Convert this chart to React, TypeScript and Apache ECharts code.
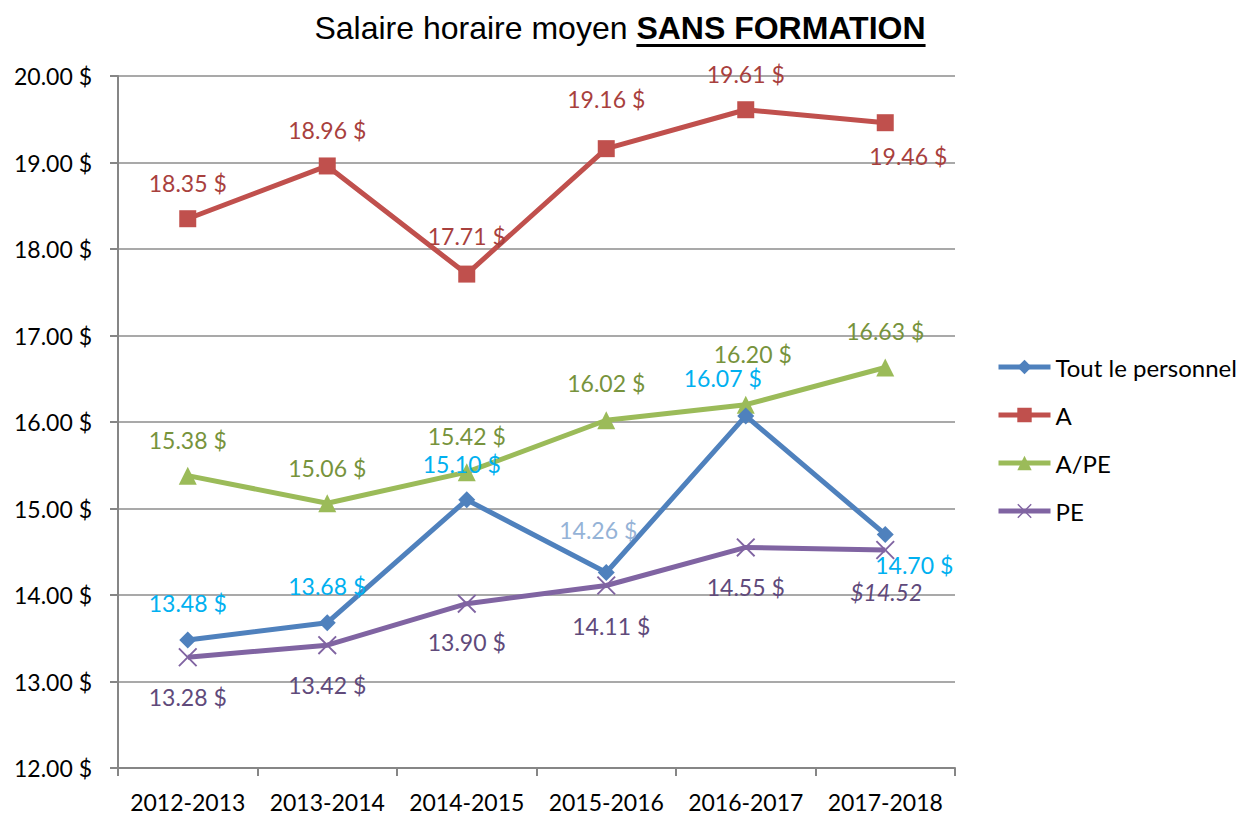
import React, { useEffect, useRef } from "react";
import * as echarts from "echarts";

const categories = ["2012-2013", "2013-2014", "2014-2015", "2015-2016", "2016-2017", "2017-2018"];
const seriesNames = ["Tout le personnel", "A", "A/PE", "PE"];
const toutValues = [13.48, 13.68, 15.1, 14.26, 16.07, 14.7];
const aValues = [18.35, 18.96, 17.71, 19.16, 19.61, 19.46];
const apeValues = [15.38, 15.06, 15.42, 16.02, 16.2, 16.63];
const peValues = [13.28, 13.42, 13.9, 14.11, 14.55, 14.52];
const yMin = 12;
const yMax = 20;
const yStep = 1;

const titlePlain = "Salaire horaire moyen ";
const titleBold = "SANS FORMATION";

// label styling (offsets relative to point centres)
const toutOffsets = [[0, -37], [0, -37], [-5, -36], [-8, -43], [-23, -38], [29, 31]];
const aOffsets = [[0, -36], [0, -36], [0, -38], [0, -50], [0, -36], [23, 33]];
const apeOffsets = [[0, -36], [0, -35], [0, -36], [0, -37], [7, -51], [0, -37]];
const peOffsets = [[0, 40], [0, 40], [0, 38], [5, 41], [0, 40], [1, 42]];

const FONT = "Lato";
const FS = 23;

const xPath = "path://M0,1.4 L1.4,0 L10,8.6 L18.6,0 L20,1.4 L11.4,10 L20,18.6 L18.6,20 L10,11.4 L1.4,20 L0,18.6 L8.6,10 Z";

function measure(text: string, font: string): number {
  const c = document.createElement("canvas");
  const ctx = c.getContext("2d");
  if (!ctx) return text.length * 15;
  ctx.font = font;
  return ctx.measureText(text).width;
}

function fmt(v: number) {
  return v.toFixed(2) + " $";
}

function makeData(values: number[], offsets: number[][], color: string, overrides: Record<number, any> = {}) {
  return values.map((v, i) => {
    const o = overrides[i] || {};
    return {
      value: v,
      label: {
        show: true,
        position: "inside",
        offset: offsets[i],
        color: o.color || color,
        fontStyle: o.fontStyle || "normal",
        formatter: o.text ? o.text : fmt(v),
        fontFamily: FONT,
        fontSize: FS,
      },
    };
  });
}

export default function App() {
  const ref = useRef<HTMLDivElement>(null);
  useEffect(() => {
    if (!ref.current) return;
    const chart = echarts.init(ref.current, undefined, { renderer: "svg" });
    const tfs = 32;
    const f1 = `${tfs}px 'Liberation Sans'`;
    const f2 = `bold ${tfs}px 'Liberation Sans'`;
    const w1 = measure(titlePlain, f1);
    const w2 = measure(titleBold, f2);
    const cx = 620;
    const x1 = cx - (w1 + w2) / 2;
    const x2 = x1 + w1;
    const ty = 28;

    const option: any = {
      animation: false,
      backgroundColor: "#ffffff",
      graphic: [
        {
          type: "text",
          x: x1,
          y: ty,
          style: { text: titlePlain, fontFamily: "Liberation Sans", fontSize: tfs, fill: "#000", textVerticalAlign: "middle", textAlign: "left" },
        },
        {
          type: "text",
          x: x2,
          y: ty,
          style: { text: titleBold, fontFamily: "Liberation Sans", fontSize: tfs, fontWeight: "bold", fill: "#000", textVerticalAlign: "middle", textAlign: "left" },
        },
        {
          type: "rect",
          shape: { x: x2, y: 44, width: w2, height: 3 },
          style: { fill: "#000" },
        },
      ],
      legend: {
        orient: "vertical",
        left: 996,
        top: 354,
        padding: 0,
        itemWidth: 52,
        itemHeight: 18,
        itemGap: 22,
        lineStyle: { width: 5 },
        textStyle: { fontFamily: FONT, fontSize: 24, color: "#000", lineHeight: 26 },
        data: seriesNames,
      },
      grid: { left: 118, right: 292, top: 76, bottom: 46, containLabel: false },
      xAxis: {
        type: "category",
        data: categories,
        boundaryGap: true,
        axisLine: { show: true, lineStyle: { color: "#868686", width: 2 } },
        axisTick: { show: true, length: 8, lineStyle: { color: "#868686", width: 2 } },
        axisLabel: { color: "#000", fontFamily: FONT, fontSize: FS, margin: 22, interval: 0 },
        splitLine: { show: false },
      },
      yAxis: {
        type: "value",
        min: yMin,
        max: yMax,
        interval: yStep,
        axisLine: { show: true, lineStyle: { color: "#868686", width: 2 } },
        axisTick: { show: true, length: 8, lineStyle: { color: "#868686", width: 2 } },
        axisLabel: { color: "#000", fontFamily: FONT, fontSize: FS, margin: 26, formatter: (v: number) => fmt(v) },
        splitLine: { show: true, lineStyle: { color: "#8c8c8c", width: 1.5 } },
      },
      series: [
        {
          name: seriesNames[0],
          type: "line",
          data: makeData(toutValues, toutOffsets, "#00B0F0", { 3: { color: "#95B3D7" } }),
          symbol: "diamond",
          symbolSize: 17,
          color: "#4F81BD",
          lineStyle: { width: 5, color: "#4F81BD" },
          itemStyle: { color: "#4F81BD" },
          z: 5,
        },
        {
          name: seriesNames[1],
          type: "line",
          data: makeData(aValues, aOffsets, "#A8403D"),
          symbol: "rect",
          symbolSize: 17,
          color: "#C0504D",
          lineStyle: { width: 5, color: "#C0504D" },
          itemStyle: { color: "#C0504D" },
          z: 4,
        },
        {
          name: seriesNames[2],
          type: "line",
          data: makeData(apeValues, apeOffsets, "#77933C"),
          symbol: "triangle",
          symbolSize: 18,
          color: "#9BBB59",
          lineStyle: { width: 5, color: "#9BBB59" },
          itemStyle: { color: "#9BBB59" },
          z: 3,
        },
        {
          name: seriesNames[3],
          type: "line",
          data: makeData(peValues, peOffsets, "#604A7B", { 5: { text: "$14.52", fontStyle: "italic" } }),
          symbol: xPath,
          symbolSize: 19,
          color: "#8064A2",
          lineStyle: { width: 5, color: "#8064A2" },
          itemStyle: { color: "#8064A2" },
          z: 2,
        },
      ],
    };
    chart.setOption(option);
    return () => chart.dispose();
  }, []);
  return <div ref={ref} style={{ position: "fixed", left: 0, top: 0, width: 1247, height: 814 }} />;
}
